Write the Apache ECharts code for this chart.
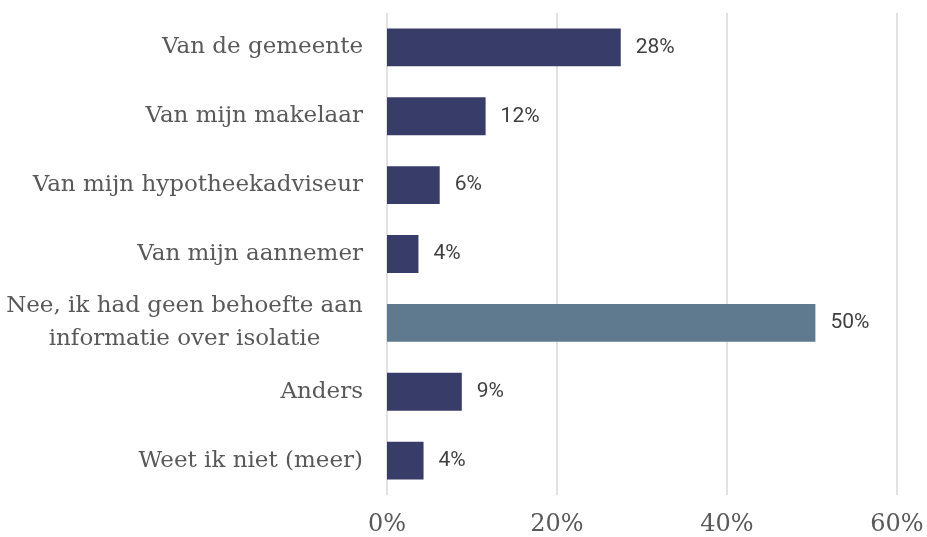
<!DOCTYPE html>
<html>
<head>
<meta charset="utf-8">
<script src="https://cdn.jsdelivr.net/npm/echarts@6/dist/echarts.min.js"></script>
<style>
  html, body { margin: 0; padding: 0; background: #fff; }
  #chart { width: 927px; height: 537px; }
</style>
</head>
<body>
<div id="chart"></div>
<script>
var categories = [
    'Van de gemeente',
    'Van mijn makelaar',
    'Van mijn hypotheekadviseur',
    'Van mijn aannemer',
    'Nee, ik had geen behoefte aan\ninformatie over isolatie',
    'Anders',
    'Weet ik niet (meer)'
];
var values = [27.5, 11.6, 6.2, 3.7, 50.4, 8.8, 4.3];
var barColors = ['#383c68', '#383c68', '#383c68', '#383c68', '#5f7a8e', '#383c68', '#383c68'];
var xTicks = [0, 20, 40, 60];

var chart = echarts.init(document.getElementById('chart'));

var labelFont = { color: '#595959', fontFamily: 'DejaVu Serif', fontSize: 23, lineHeight: 33 };

var option = {
    animation: false,
    grid: {
        left: 387,
        right: 30,
        top: 13,
        bottom: 42,
        containLabel: false
    },
    xAxis: {
        type: 'value',
        min: xTicks[0],
        max: xTicks[xTicks.length - 1],
        interval: 20,
        axisLine: { show: false },
        axisTick: { show: false },
        splitLine: { show: true, lineStyle: { color: '#d9d9d9', width: 1.5 } },
        axisLabel: {
            formatter: '{value}%',
            margin: 18,
            color: '#595959',
            fontFamily: 'DejaVu Serif',
            fontSize: 24
        }
    },
    yAxis: {
        type: 'category',
        inverse: true,
        data: categories,
        axisLine: { show: false },
        axisTick: { show: false },
        axisLabel: {
            margin: 24,
            color: labelFont.color,
            fontFamily: labelFont.fontFamily,
            fontSize: labelFont.fontSize,
            lineHeight: labelFont.lineHeight,
            align: 'right',
            // multi-line label: lines centred on each other like the original
            formatter: function (val) {
                if (val.indexOf('\n') < 0) return val;
                return val.split('\n').map(function (s) { return '{c|' + s + '}'; }).join('\n');
            },
            rich: {
                c: {
                    width: 357,
                    align: 'center',
                    color: labelFont.color,
                    fontFamily: labelFont.fontFamily,
                    fontSize: labelFont.fontSize,
                    lineHeight: labelFont.lineHeight
                }
            }
        }
    },
    series: [
        {
            type: 'bar',
            barCategoryGap: '45%',
            data: values.map(function (v, i) {
                return { value: v, itemStyle: { color: barColors[i] } };
            }),
            label: {
                show: true,
                position: 'right',
                distance: 15,
                color: '#404040',
                fontFamily: 'Roboto',
                fontSize: 21,
                formatter: function (p) {
                    return Math.round(p.value) + '%';
                }
            }
        }
    ]
};

chart.setOption(option);
</script>
</body>
</html>
